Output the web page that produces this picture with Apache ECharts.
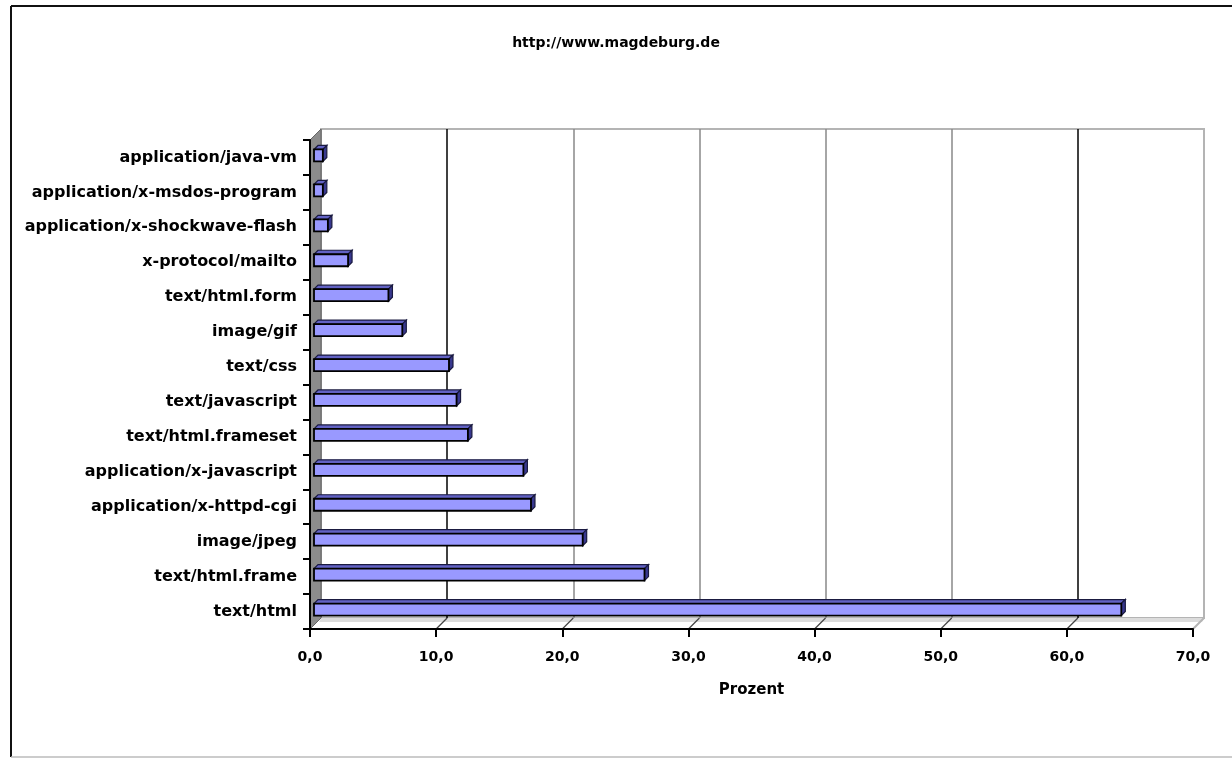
<!DOCTYPE html>
<html><head><meta charset="utf-8">
<script src="https://cdn.jsdelivr.net/npm/echarts@6/dist/echarts.min.js"></script>
<style>html,body{margin:0;padding:0;background:#fff}#c{width:1232px;height:759px}</style>
</head><body><div id="c"></div><script>
const categories = ['text/html','text/html.frame','image/jpeg','application/x-httpd-cgi','application/x-javascript','text/html.frameset','text/javascript','text/css','image/gif','text/html.form','x-protocol/mailto','application/x-shockwave-flash','application/x-msdos-program','application/java-vm'];
const values = [64.0, 26.2, 21.3, 17.2, 16.6, 12.2, 11.3, 10.7, 7.0, 5.9, 2.7, 1.1, 0.7, 0.7];
const xMin = 0, xMax = 70, xStep = 10;
const titleText = 'http://www.magdeburg.de';
const axisName = 'Prozent';

const FONT = 'DejaVu Sans';
const DX = 11, DY = -11;
const chart = echarts.init(document.getElementById('c'), null, {renderer: 'canvas'});

function fmt(v){ return v.toFixed(1).replace('.', ','); }

function renderBar(params, api){
  const v = api.value(0), c = api.value(1);
  const p0 = api.coord([0, c]);
  const p1 = api.coord([v, c]);
  const bw = 12, dx = 4, dy = -4, ox = 4, oy = -2;
  const x0 = p0[0] + ox, x1 = p1[0] + ox, yc = p0[1] + oy;
  const yt = yc - bw/2, yb = yc + bw/2;
  return {type:'group', children:[
    {type:'polygon', shape:{points:[[x0,yt],[x1,yt],[x1+dx,yt+dy],[x0+dx,yt+dy]]}, style:{fill:'#6262c4', stroke:'#1a1a40', lineWidth:1.2}},
    {type:'polygon', shape:{points:[[x1,yt],[x1+dx,yt+dy],[x1+dx,yb+dy],[x1,yb]]}, style:{fill:'#38388f', stroke:'#1a1a40', lineWidth:1.2}},
    {type:'rect', shape:{x:x0, y:yt, width:Math.max(x1-x0,0), height:bw}, style:{fill:'#9999ff', stroke:'#000', lineWidth:1.8}}
  ]};
}

const option = {
  animation: false,
  backgroundColor: '#fff',
  title: {text: titleText, left: 'center', top: 31,
    textStyle: {fontFamily: FONT, fontWeight: 'bold', fontSize: 14, color: '#000'}},
  grid: [
    {left: 310, right: 39, top: 140, bottom: 130, containLabel: false},
    {left: 310 + DX, right: 39 - DX, top: 140 + DY, bottom: 130 - DY, show: true, borderColor: '#b4b4b4', borderWidth: 2, backgroundColor: 'transparent'}
  ],
  xAxis: [
    {gridIndex: 0, type: 'value', min: xMin, max: xMax, interval: xStep, z: 5,
      axisLine: {show: true, lineStyle: {color: '#000', width: 2}},
      axisTick: {show: true, length: 8, lineStyle: {color: '#000', width: 2}},
      splitLine: {show: false},
      axisLabel: {formatter: fmt, margin: 21, fontFamily: FONT, fontWeight: 'bold', fontSize: 14, color: '#000'},
      name: axisName, nameLocation: 'middle', nameGap: 54,
      nameTextStyle: {fontFamily: FONT, fontWeight: 'bold', fontSize: 15, color: '#000'}},
    {gridIndex: 1, type: 'value', min: xMin, max: xMax, interval: xStep,
      axisLine: {show: false}, axisTick: {show: false}, axisLabel: {show: false},
      splitLine: {show: true, lineStyle: {color: ['#888','#000','#888','#888','#888','#888','#000','#b4b4b4'], width: 1.5}}}
  ],
  yAxis: [
    {gridIndex: 0, type: 'category', data: categories, z: 5,
      axisLine: {show: true, lineStyle: {color: '#000', width: 2}},
      axisTick: {show: true, length: 7, lineStyle: {color: '#000', width: 2}},
      axisLabel: {margin: 13, fontFamily: FONT, fontWeight: 'bold', fontSize: 16, color: '#000'},
      splitLine: {show: false}},
    {gridIndex: 1, type: 'category', data: categories, show: false}
  ],
  series: [{
    type: 'custom', xAxisIndex: 0, yAxisIndex: 0, z: 3,
    renderItem: renderBar,
    encode: {x: 0, y: 1},
    data: values.map((v, i) => [v, i])
  }]
};
chart.setOption(option);

// 3D walls / floor decorations, positioned through the axes
const yA = chart.convertToPixel({yAxisIndex: 0}, categories[0]);
const yB = chart.convertToPixel({yAxisIndex: 0}, categories[1]);
const band = yA - yB;
const yTop = chart.convertToPixel({yAxisIndex: 0}, categories[categories.length-1]) - band / 2;
const yBot = yA + band / 2;
const x0 = chart.convertToPixel({xAxisIndex: 0}, xMin);
const xEnd = chart.convertToPixel({xAxisIndex: 0}, xMax);
const graphics = [];
// outer frame
graphics.push({type:'line', shape:{x1:11, y1:6, x2:11, y2:757}, style:{stroke:'#111', lineWidth:2}, z: 10});
graphics.push({type:'line', shape:{x1:11, y1:6, x2:1232, y2:6}, style:{stroke:'#111', lineWidth:2}, z: 10});
graphics.push({type:'line', shape:{x1:11, y1:757, x2:1232, y2:757}, style:{stroke:'#bbb', lineWidth:1.5}, z: 10});
// floor back band
graphics.push({type:'polygon', shape:{points:[[x0+DX, yBot+DY],[xEnd+DX, yBot+DY],[xEnd+DX-2, yBot+DY+4],[x0+DX-2, yBot+DY+4]]},
  style:{fill:'#dcdcdc'}, z: 0});
// left wall
graphics.push({type:'polygon', shape:{points:[[x0, yTop],[x0+DX, yTop+DY],[x0+DX, yBot+DY],[x0, yBot]]},
  style:{fill:'#8c8c8c', stroke:'#666', lineWidth:1}, z: 1});
// floor connectors
for (let v = xMin + xStep; v <= xMax; v += xStep) {
  const x = chart.convertToPixel({xAxisIndex: 0}, v);
  graphics.push({type:'line', shape:{x1:x, y1:yBot, x2:x+DX, y2:yBot+DY},
    style:{stroke: v === xMax ? '#b4b4b4' : '#444', lineWidth: v === xMax ? 2 : 1.2}, z: 1});
}
chart.setOption({graphic: graphics});
</script></body></html>
